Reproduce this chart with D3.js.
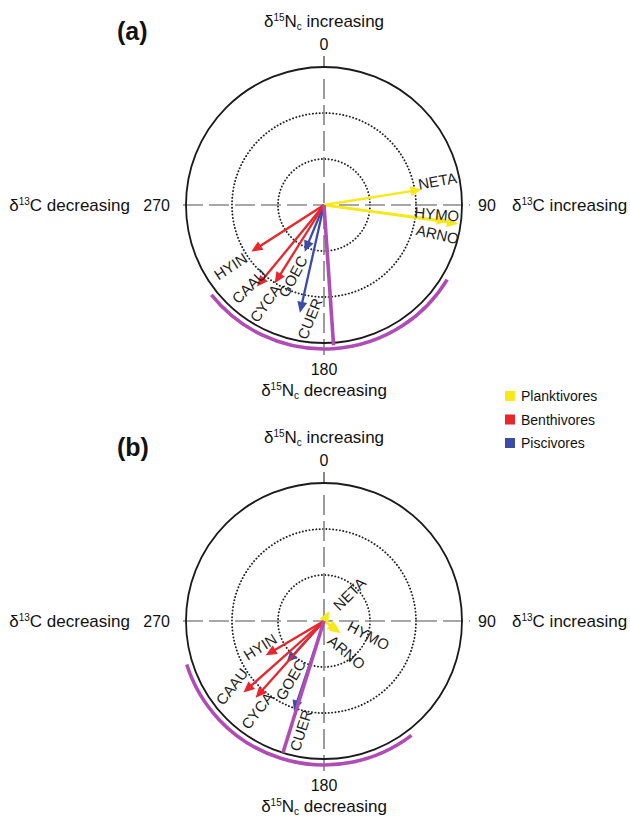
<!DOCTYPE html>
<html>
<head>
<meta charset="utf-8">
<script src="https://cdn.jsdelivr.net/npm/d3@7/dist/d3.min.js"></script>
<style>
  html, body { margin: 0; padding: 0; background: #fff; }
  svg { display: block; font-family: "Liberation Sans", Arial, sans-serif; }
</style>
</head>
<body>
<svg id="chart" width="630" height="818"></svg>
<script>
// Species codes and their feeding guilds
const species = ["NETA", "HYMO", "ARNO", "HYIN", "CAAU", "CYCA", "GOEC", "CUER"];
const guilds = ["Planktivores", "Planktivores", "Planktivores", "Benthivores", "Benthivores", "Benthivores", "Piscivores", "Piscivores"];

// Mean direction (degrees) and mean vector length per species, panel (a)
const angleA = [81, 98, 97.5, 237.3, 219.4, 212.2, 202.5, 192.6];
const lengthA = [0.715, 0.98, 0.905, 0.625, 0.765, 0.67, 0.366, 0.80];
// Panel (b)
const angleB = [27, 126, 124, 239.5, 228.4, 221.7, 222, 198.4];
const lengthB = [0.055, 0.15, 0.13, 0.49, 0.78, 0.745, 0.405, 0.69];

// Grand mean direction, its length and the confidence arc limits
const meanAngle = [176.1, 197.3];
const meanLength = [1.02, 1.0];
const ciLow = [121.2, 142.6];
const ciHigh = [231.4, 252.4];

// Legend entries and compass tick labels
const legendItems = ["Planktivores", "Benthivores", "Piscivores"];
const tickLabels = ["0", "90", "180", "270"];
const panelTags = ["(a)", "(b)"];

// ---- styling and layout ----
const guildColor = { Planktivores: "#f6e91a", Benthivores: "#e8262b", Piscivores: "#3c4ba6" };
const meanColor = "#b04db5";
const R = 138;
const cx = 324;
const panelCy = [205, 621];

// label placement: radius (fraction of R), bearing (deg), text rotation (deg)
const labelLayout = [
  {
    NETA: [0.84, 78, -10], HYMO: [0.82, 94.6, 5], ARNO: [0.85, 104.4, 13],
    HYIN: [0.81, 236.7, -33], CAAU: [0.80, 222.7, -45], CYCA: [0.83, 210.9, -55],
    GOEC: [0.565, 203.6, -62], CUER: [0.83, 187.2, -68]
  },
  {
    NETA: [0.27, 43, -45], HYMO: [0.34, 108, 28], ARNO: [0.28, 144, 40],
    HYIN: [0.50, 248, -32], CAAU: [0.82, 234.6, -52], CYCA: [0.81, 216.7, -52],
    GOEC: [0.49, 209.7, -60], CUER: [0.81, 192, -72]
  }
];

const svg = d3.select("#chart");
const rScale = d3.scaleLinear().domain([0, 1]).range([0, R]);
const aScale = d3.scaleLinear().domain([0, 360]).range([0, 2 * Math.PI]);
const pt = (deg, r) => d3.pointRadial(aScale(deg), rScale(r));

function drawPanel(p, angles, lengths) {
  const cy = panelCy[p];
  const g = svg.append("g").attr("transform", `translate(${cx},${cy})`);

  // dotted rings at 1/3 and 2/3
  [1 / 3, 2 / 3].forEach(f => {
    g.append("circle").attr("r", rScale(f))
      .attr("fill", "none").attr("stroke", "#222")
      .attr("stroke-width", 1.9).attr("stroke-linecap", "round")
      .attr("stroke-dasharray", "0.1,3.3");
  });

  // dashed cross-hair axes
  g.append("line").attr("x1", -R - 3).attr("x2", R + 8).attr("y1", 0).attr("y2", 0)
    .attr("stroke", "#8a8a8a").attr("stroke-width", 1.7).attr("stroke-dasharray", "20,6");
  g.append("line").attr("x1", 0).attr("x2", 0).attr("y1", -R + 12).attr("y2", R + 12)
    .attr("stroke", "#8a8a8a").attr("stroke-width", 1.7).attr("stroke-dasharray", "20,6");
  g.append("line").attr("x1", 0).attr("x2", 0).attr("y1", -R - 11).attr("y2", -R)
    .attr("stroke", "#555").attr("stroke-width", 1.4);

  // outer circle
  g.append("circle").attr("r", R).attr("fill", "none")
    .attr("stroke", "#1a1a1a").attr("stroke-width", 1.8);

  // confidence arc outside the circle
  const arc = d3.arc().innerRadius(R + 6).outerRadius(R + 6)
    .startAngle(aScale(ciLow[p])).endAngle(aScale(ciHigh[p]));
  g.append("path").attr("d", arc()).attr("fill", "none")
    .attr("stroke", meanColor).attr("stroke-width", 3.6);

  // species vectors, drawn piscivores first so other guilds sit on top
  const order = [6, 7, 3, 4, 5, 0, 1, 2];
  const headLen = 11, headHalf = 5;
  order.forEach(i => {
    const col = guildColor[guilds[i]];
    const a = aScale(angles[i]);
    const len = rScale(lengths[i]);
    const [tx, ty] = d3.pointRadial(a, len);
    const ux = Math.sin(a), uy = -Math.cos(a);
    const baseLen = Math.max(len - headLen, 0);
    const bx = ux * baseLen, by = uy * baseLen;
    if (baseLen > 0) {
      g.append("line").attr("x1", 0).attr("y1", 0).attr("x2", bx + ux).attr("y2", by + uy)
        .attr("stroke", col).attr("stroke-width", 2.3);
    }
    const hx = baseLen > 0 ? tx : ux * headLen, hy = baseLen > 0 ? ty : uy * headLen;
    const hb = baseLen > 0 ? [bx, by] : [0, 0];
    g.append("path")
      .attr("d", `M${hx},${hy}L${hb[0] - uy * headHalf},${hb[1] + ux * headHalf}L${hb[0] + uy * headHalf},${hb[1] - ux * headHalf}Z`)
      .attr("fill", col);
  });

  // grand mean vector
  const [mx, my] = pt(meanAngle[p], meanLength[p]);
  g.append("line").attr("x1", 0).attr("y1", 0).attr("x2", mx).attr("y2", my)
    .attr("stroke", meanColor).attr("stroke-width", 3.6);

  // species labels
  species.forEach(s => {
    const [lr, lb, rot] = labelLayout[p][s];
    const [lx, ly] = pt(lb, lr);
    g.append("text").attr("transform", `translate(${lx},${ly}) rotate(${rot})`)
      .attr("text-anchor", "middle").attr("dominant-baseline", "central")
      .attr("font-size", 15).attr("fill", "#1e1e1e").text(s);
  });

  // compass labels
  const lab = (x, y, txt, anchor, size) => g.append("text").attr("x", x).attr("y", y)
    .attr("text-anchor", anchor).attr("font-size", size).attr("fill", "#111").text(txt);
  lab(0, -155, tickLabels[0], "middle", 16);
  lab(0, 170, tickLabels[2], "middle", 16);
  lab(-R - 16, 6, tickLabels[3], "end", 16);
  lab(R + 16, 6, tickLabels[1], "start", 16);

  const iso = (x, y, anchor, el, mass, sub, word) => {
    const t = g.append("text").attr("x", x).attr("y", y).attr("text-anchor", anchor)
      .attr("font-size", 17).attr("fill", "#111");
    t.append("tspan").text("δ");
    t.append("tspan").attr("font-size", 10).attr("dy", -6).text(mass);
    t.append("tspan").attr("dy", 6).text(el);
    if (sub) t.append("tspan").attr("font-size", 10).attr("dy", 3).text(sub);
    t.append("tspan").attr("dy", sub ? -3 : 0).text(" " + word);
  };
  iso(0, -178, "middle", "N", "15", "c", "increasing");
  iso(0, 191, "middle", "N", "15", "c", "decreasing");
  iso(-R - 56, 6, "end", "C", "13", null, "decreasing");
  iso(R + 50, 6, "start", "C", "13", null, "increasing");

  // panel tag
  svg.append("text").attr("x", 117).attr("y", cy - 165)
    .attr("font-size", 25).attr("font-weight", "bold").attr("fill", "#111").text(panelTags[p]);
}

drawPanel(0, angleA, lengthA);
drawPanel(1, angleB, lengthB);

// guild legend
const leg = svg.append("g").attr("transform", "translate(505,391)");
legendItems.forEach((name, i) => {
  leg.append("rect").attr("x", 0).attr("y", i * 23.5).attr("width", 10).attr("height", 10)
    .attr("fill", guildColor[name]);
  leg.append("text").attr("x", 16).attr("y", i * 23.5 + 10).attr("font-size", 14)
    .attr("fill", "#111").text(name);
});
</script>
</body>
</html>
